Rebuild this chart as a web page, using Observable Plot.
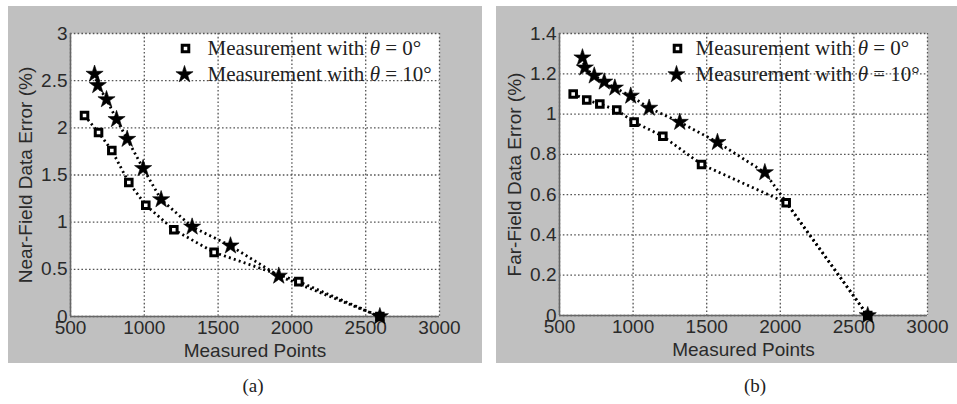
<!DOCTYPE html>
<html><head><meta charset="utf-8">
<script src="https://cdn.jsdelivr.net/npm/d3@7"></script>
<script src="https://cdn.jsdelivr.net/npm/@observablehq/plot@0.6"></script>
<style>
body{margin:0;background:#fff;width:957px;height:404px;position:relative;overflow:hidden;}
.panel{position:absolute;top:6px;background:#c0c0c0;height:357px;}
.panel svg{display:block;}
.cap{position:absolute;top:375px;font:19px "Liberation Serif","Times New Roman",serif;color:#222;transform:translateX(-50%);}
</style></head><body>
<div id="a" class="panel" style="left:8px;width:474px"></div>
<div id="b" class="panel" style="left:496px;width:461px"></div>
<div class="cap" style="left:253px">(a)</div>
<div class="cap" style="left:755px">(b)</div>
<script>
const xTicks = [500, 1000, 1500, 2000, 2500, 3000];
const nearTicks = [0, 0.5, 1, 1.5, 2, 2.5, 3];
const farTicks = [0, 0.2, 0.4, 0.6, 0.8, 1, 1.2, 1.4];
const xLabel = "Measured Points";
const nearLabel = "Near-Field Data Error (%)";
const farLabel = "Far-Field Data Error (%)";
const legendLabels = ["Measurement with θ = 0°", "Measurement with θ = 10°"];

const nearPoints0 = [595, 690, 780, 895, 1010, 1200, 1473, 2047, 2596];
const nearErr0 = [2.13, 1.95, 1.76, 1.42, 1.18, 0.92, 0.68, 0.37, 0];
const nearPoints10 = [663, 685, 744, 812, 884, 992, 1114, 1324, 1584, 1911, 2596];
const nearErr10 = [2.57, 2.45, 2.30, 2.09, 1.88, 1.57, 1.24, 0.95, 0.75, 0.43, 0];

const farPoints0 = [593, 685, 774, 889, 1007, 1202, 1465, 2040, 2594];
const farErr0 = [1.10, 1.07, 1.05, 1.02, 0.96, 0.89, 0.75, 0.56, 0];
const farPoints10 = [656, 672, 736, 804, 876, 984, 1109, 1317, 1573, 1895, 2594];
const farErr10 = [1.28, 1.23, 1.19, 1.16, 1.13, 1.09, 1.03, 0.96, 0.86, 0.71, 0];

const fmt = d => String(d);
const svgns = "http://www.w3.org/2000/svg";

function panel(cfg) {
  const s0 = cfg.p0.map((x, i) => ({x, y: cfg.e0[i]}));
  const s10 = cfg.p10.map((x, i) => ({x, y: cfg.e10[i]}));
  const serif = "Liberation Serif, Times New Roman, serif";
  const lineStyle = {x: "x", y: "y", stroke: "black", strokeWidth: 2.8, strokeDasharray: "2,3.2", strokeLinecap: "butt"};
  const sq = {symbol: "square", r: 3.7, stroke: "black", strokeWidth: 3, fill: "white"};
  const st = {symbol: "star", r: 5.4, fill: "black", stroke: "black", strokeWidth: 0.6};
  const chart = Plot.plot({
    width: cfg.width, height: 357,
    marginLeft: cfg.ml, marginRight: cfg.mr, marginTop: 27, marginBottom: cfg.mb,
    style: {background: "transparent", fontFamily: "Liberation Sans, Arial, sans-serif", fontSize: "19px", color: "#333"},
    x: {domain: [500, 3000]},
    y: {domain: [0, cfg.yMax]},
    marks: [
      Plot.frame({fill: "white", stroke: null}),
      Plot.gridX(xTicks, {stroke: "#555", strokeOpacity: 1, strokeWidth: 1.3, strokeDasharray: "1.6,2.2"}),
      Plot.gridY(cfg.yTicks, {stroke: "#555", strokeOpacity: 1, strokeWidth: 1.3, strokeDasharray: "1.6,2.2"}),
      Plot.ruleX([500], {stroke: "#666", strokeWidth: 1.6}),
      Plot.ruleY([0], {stroke: "#666", strokeWidth: 1.6}),
      Plot.axisX(xTicks, {tickSize: 0, tickPadding: 4, tickFormat: fmt, label: null, fill: "#2a2a2a", fontSize: 19}),
      Plot.axisY(cfg.yTicks, {tickSize: 0, tickPadding: 3, tickFormat: fmt, label: null, fill: "#2a2a2a", fontSize: 19}),
      Plot.text([xLabel], {frameAnchor: "bottom", dy: 27, lineAnchor: "top", textAnchor: "middle", text: d => d, fill: "#2a2a2a", fontSize: 19}),
      Plot.text([cfg.yLabel], {frameAnchor: "left", dx: -45, rotate: -90, lineAnchor: "middle", textAnchor: "middle", text: d => d, fill: "#2a2a2a", fontSize: 19}),
      Plot.line(s0, lineStyle),
      Plot.line(s10, lineStyle),
      Plot.dot(s0, {x: "x", y: "y", ...sq}),
      Plot.dot(s10, {x: "x", y: "y", ...st}),
      Plot.dot([legendLabels[0]], {x: null, y: null, frameAnchor: "top-left", dx: cfg.legDot, dy: 15, ...sq}),
      Plot.dot([legendLabels[1]], {x: null, y: null, frameAnchor: "top-left", dx: cfg.legDot - 1, dy: 41, ...st}),
      Plot.text([legendLabels[0]], {frameAnchor: "top-left", dx: cfg.legText, dy: 15, text: d => d, textAnchor: "start", lineAnchor: "middle", fontFamily: serif, fontSize: 21, fill: "#222"}),
      Plot.text([legendLabels[1]], {frameAnchor: "top-left", dx: cfg.legText, dy: 41, text: d => d, textAnchor: "start", lineAnchor: "middle", fontFamily: serif, fontSize: 21, fill: "#222"})
    ]
  });
  chart.querySelectorAll("text").forEach(t => {
    const s = t.textContent;
    if (s.includes("θ")) {
      const [a, b] = s.split("θ");
      t.textContent = "";
      t.append(a);
      const ts = document.createElementNS(svgns, "tspan");
      ts.setAttribute("font-style", "italic");
      ts.textContent = "θ";
      t.append(ts);
      t.append(b);
    }
  });
  return chart;
}

document.getElementById("a").append(panel({
  width: 474, ml: 62, mr: 43, mb: 47, yMax: 3, yTicks: nearTicks, yLabel: nearLabel,
  p0: nearPoints0, e0: nearErr0, p10: nearPoints10, e10: nearErr10, legDot: 115, legText: 137
}));
document.getElementById("b").append(panel({
  width: 461, ml: 63, mr: 30, mb: 48, yMax: 1.4, yTicks: farTicks, yLabel: farLabel,
  p0: farPoints0, e0: farErr0, p10: farPoints10, e10: farErr10, legDot: 118, legText: 136
}));
</script>
</body></html>
